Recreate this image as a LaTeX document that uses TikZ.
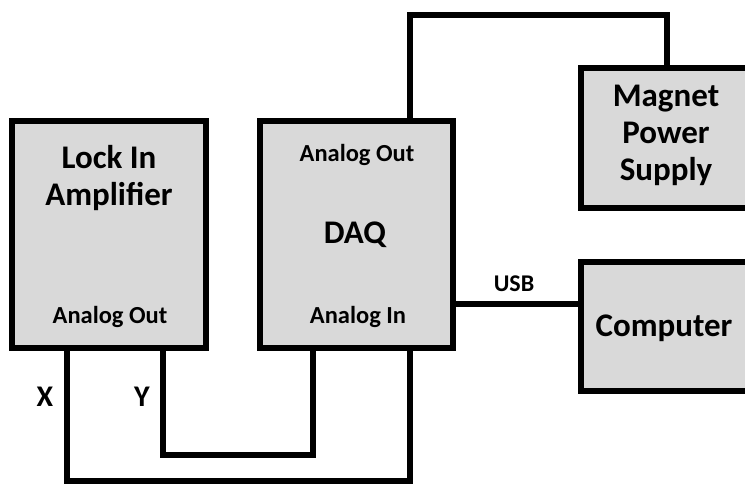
\documentclass[tikz,border=0pt]{standalone}
\usepackage{fontspec}
\setmainfont{Carlito}
\usetikzlibrary{positioning}
\definecolor{panelgray}{RGB}{217,217,217}

\begin{document}
\begin{tikzpicture}[x=1pt,y=-1pt,
  unit/.style={draw=black,fill=panelgray,line width=6pt,inner sep=0pt},
  wire/.style={draw=black,line width=6pt},
  title/.style={font=\fontsize{33}{37}\selectfont\bfseries,align=center},
  port/.style={font=\fontsize{24.5}{28}\selectfont\bfseries},
  sig/.style={font=\fontsize{30}{34}\selectfont\bfseries}]
  \useasboundingbox (0,0) rectangle (745,484);
  \clip (0,0) rectangle (745,484);
  % instruments
  \node[unit,minimum width=194pt,minimum height=227pt] (lockin) at (109,234.5) {};
  \node[unit,minimum width=193pt,minimum height=227pt] (daq) at (356.5,234.5) {};
  \node[unit,minimum width=171pt,minimum height=140pt] (magnet) at (666.5,138) {};
  \node[unit,minimum width=171pt,minimum height=129pt] (computer) at (666.5,326.5) {};
  \node[title] (lockintxt) at (109,178) {Lock In\\Amplifier};
  \node[port] (lockinout) at (110,317) {Analog Out};
  \node[port] (daqout) at (357,155) {Analog Out};
  \node[title] (daqtxt) at (355,235) {DAQ};
  \node[port] (daqin) at (358,317) {Analog In};
  \node[title] (magnettxt) at (666,135) {Magnet\\Power\\Supply};
  \node[title] (computertxt) at (664,328) {Computer};
  % cables
  \coordinate (topbend) at (540,15);
  \coordinate (xbend) at (240,481);
  \coordinate (ybend) at (240,455);
  \draw[wire] ([xshift=53.5pt]daq.north) |- (topbend) -| (magnet.north);
  \draw[wire] ([yshift=-69.5pt]daq.east) -- ([yshift=-69.5pt]daq.east -| computer.west);
  \draw[wire] ([xshift=-42pt]lockin.south) |- (xbend) -| ([xshift=53.5pt]daq.south);
  \draw[wire] ([xshift=54pt]lockin.south) |- (ybend) -| ([xshift=-43.5pt]daq.south);
  \node[port,font=\fontsize{24}{28}\selectfont\bfseries] (usb) at (514,284) {USB};
  \node[sig] (xlab) at (45,397) {X};
  \node[sig] (ylab) at (142,397) {Y};
\end{tikzpicture}
\end{document}
